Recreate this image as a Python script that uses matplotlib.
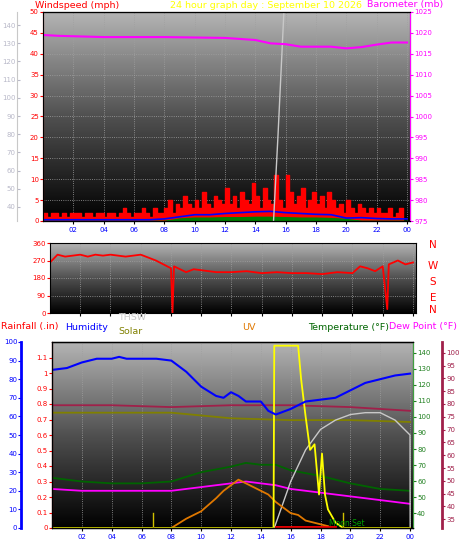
import numpy as np
import matplotlib
matplotlib.use("Agg")
import matplotlib.pyplot as plt
from matplotlib.colors import LinearSegmentedColormap

# ---------- data ----------
wind_gust = [2,1,2,2,1,2,1,2, 2,2,1,2,2,1,2,2, 1,2,2,1,2,3,2,1, 2,2,3,2,1,3,2,2,
             3,5,2,4,3,6,4,3, 5,3,7,4,3,6,5,4,
             8,4,6,3,7,5,4,9, 6,3,8,5,4,11,5,3,
             11,7,4,6,8,3,5,7, 4,6,3,7,5,3,4,2,
             5,3,2,4,3,2,3,2, 3,2,2,3,1,2,3,1]
wind_avg_h = [0,1,2,3,4,5,6,7,8,9,10,11,12,13,14,15,16,17,18,19,20,21,22,23,24]
wind_avg = [0.3,0.3,0.3,0.3,0.3,0.3,0.3,0.3,0.5,1.0,1.5,1.5,1.8,2.0,2.2,2.3,2.0,1.8,1.6,1.5,0.7,0.8,0.6,0.5,0.5]
wind_low = [0,0,0,0,0,0,0,0,0,0.6,0.8,0.8,0.9,0.9,1.0,1.0,0.9,0.8,0.8,0.7,0.5,0,0,0,0]
baro_h = [0,1,2,4,8,12,14,15,16,17,19,20,21,22,23,24]
baro = [1019.5,1019.3,1019.2,1019.0,1019.0,1018.8,1018.3,1017.5,1017.3,1016.7,1016.7,1016.3,1016.6,1017.2,1017.7,1017.7]
thsw_top_h = [15.2, 15.5, 15.9]
thsw_top = [32, 80, 150]

dir_h = [0,0.5,1,1.5,2,2.5,3,3.5,4,5,6,7,7.5,8,8.1,8.2,9,9.5,10,11,12,13,14,15,16,17,18,19,20,20.5,21,21.5,22,22.3,22.4,23,23.5,24]
wdir = [260,300,290,295,300,290,300,295,300,290,300,270,250,230,0,240,210,225,220,210,210,215,205,210,205,205,200,210,205,240,230,215,240,20,250,270,250,260]

hum_h = [0,1,2,3,4,4.5,5,6,7,8,9,10,11,11.5,12,12.5,13,14,14.5,15,16,17,18,19,20,21,22,23,24]
hum = [85,86,89,91,91,92,91,91,91,90,84,76,71,70,73,71,68,68,63,61,64,68,69,70,74,78,80,82,83]
h_line = [0,4,8,12,16,20,24]
maroon = [66,66,65,66,66,65,63]
olive = [62,62,62,59,58,58,57]
temp_h = [0,2,4,6,8,10,12,13,14,15,16,18,20,22,24]
temp = [27,25,24,24,25,30,33,35,34,34,31,28,24,21,20]
dew = [21,20,20,20,20,22,24,25,24,23,21,19,17,15,13]
uv_h = [8,9,10,11,11.5,12,12.5,13,13.5,14,14.5,15,15.5,16,16.5,17,18,18.5]
uv = [0,5,9,16,20,23,26,24,22,20,18,14,11,8,7,4,2,1]
sol_h = [0,14.85,14.9,16.5,16.7,17,17.3,17.6,17.9,18.1,18.3,18.5,19,19.5,24]
sol = [0,0,98,98,80,60,42,45,18,40,18,10,3,0,0]
thsw_h = [14.9,16,17,18,19,20,21,22,23,24,24.01]
thsw = [0,25,42,53,58,61,62,62,58,50,0]

xt = [2,4,6,8,10,12,14,16,18,20,22,24]
xtl = ["02","04","06","08","10","12","14","16","18","20","22","00"]

W, H = 459, 555
fig = plt.figure(figsize=(W/100, H/100), dpi=100)
cmap = LinearSegmentedColormap.from_list("g", ["#b4b4b4", "#505050", "#000000"])
fs = 5
tfs = 6.8

def bg(ax):
    grad = np.linspace(0, 1, 256).reshape(-1, 1)
    ax.imshow(grad, cmap=cmap, aspect="auto", extent=[0, 1, 0, 1],
              transform=ax.transAxes, zorder=0)
    ax.grid(True, color="#a0a0a0", linestyle=":", linewidth=0.6)
    ax.set_xlim(0, 24.2)
    ax.set_xticks(xt)
    ax.set_xticklabels(xtl, color="blue", fontsize=fs)
    ax.tick_params(axis="x", length=2, pad=2)

def fax(l, t, r, b):
    return fig.add_axes([l/W, 1-b/H, (r-l)/W, (b-t)/H])

# ---------- top panel ----------
ax1 = fax(43, 12, 410, 221)
bg(ax1)
xg = np.arange(len(wind_gust)) * 0.25
ax1.fill_between(xg, wind_gust, step="post", color="red", zorder=3)
ax1.fill_between(wind_avg_h, wind_low, color="green", zorder=4)
ax1.plot(wind_avg_h, wind_avg, color="blue", lw=1.2, zorder=5)
ax1.set_ylim(0, 50)
ax1.set_yticks(range(0, 51, 5))
ax1.tick_params(axis="y", colors="red", labelsize=fs, length=2, pad=1)
ax1.spines["left"].set_color("red")

axg = ax1.twinx()
axg.spines["right"].set_visible(False)
axg.spines["left"].set_visible(True)
axg.spines["left"].set_position(("outward", 19))
axg.spines["left"].set_color("#c8c8c8")
axg.yaxis.set_ticks_position("left")
axg.set_ylim(32.3, 147.2)
axg.set_yticks(range(40, 141, 10))
axg.tick_params(axis="y", colors="#b8b8c8", labelsize=fs, length=2, pad=1, direction="in")
axg.plot(thsw_top_h, thsw_top, color="#c8c8c8", lw=1)

axb = ax1.twinx()
axb.set_ylim(975, 1025)
axb.set_yticks(range(975, 1026, 5))
axb.tick_params(axis="y", colors="magenta", labelsize=fs, length=2, pad=1)
axb.spines["right"].set_color("magenta")
axb.plot(baro_h, baro, color="magenta", lw=1.5)
axb.set_xlim(0, 24.2)

fig.text(35/W, 1-5/H, "Windspeed (mph)", color="red", fontsize=tfs, va="center")
fig.text(170/W, 1-5/H, "24 hour graph day : September 10 2026", color="yellow", fontsize=tfs, va="center")
fig.text(367/W, 1-5/H, "Barometer (mb)", color="magenta", fontsize=tfs, va="center")

# ---------- middle panel ----------
ax2 = fax(50, 243, 416, 313)
bg(ax2)
ax2.plot(dir_h, wdir, color="red", lw=1.3)
ax2.set_ylim(0, 360)
ax2.set_yticks([0, 90, 180, 270, 360])
ax2.tick_params(axis="y", colors="red", labelsize=fs, length=2, pad=1)
ax2.set_xticklabels([])
for lab, y in zip(["N", "W", "S", "E", "N"], [245, 266, 282, 298, 310]):
    fig.text(433/W, 1-(y)/H, lab, color="red", fontsize=7.5, va="center", ha="center")

# ---------- bottom panel ----------
ax3 = fax(52, 342, 413, 528)
bg(ax3)
ax3.set_ylim(0, 100)
ax3.set_yticks([])
ax3.plot(h_line, maroon, color="#a0204a", lw=1.3)
ax3.plot(h_line, olive, color="#808000", lw=1.3)
ax3.plot(temp_h, temp, color="#006400", lw=1.3)
ax3.plot(temp_h, dew, color="magenta", lw=1.3)
ax3.plot(thsw_h, thsw, color="#c8c8c8", lw=1)
ax3.plot(uv_h, uv, color="#e07800", lw=1.3)
ax3.plot(sol_h, sol, color="yellow", lw=1.3)
ax3.plot(hum_h, hum, color="blue", lw=1.5)
ax3.plot([15, 19], [0.3, 0.3], color="red", lw=2)
ax3.text(18.6, 1, "Moon Set", color="#00a000", fontsize=5.5)
ax3.plot([6.8, 6.8], [0, 8], color="#d0c000", lw=1)
ax3.plot([19.5, 19.5], [0, 8], color="#d0c000", lw=1)

axr = ax3.twinx()
axr.spines["right"].set_visible(False)
axr.spines["left"].set_visible(True)
axr.spines["left"].set_color("red")
axr.yaxis.set_ticks_position("left")
axr.set_ylim(0, 1.2)
axr.set_yticks([0, .1, .2, .3, .4, .5, .6, .7, .8, .9, 1, 1.1])
axr.set_yticklabels(["0", "0.1", "0.2", "0.3", "0.4", "0.5", "0.6", "0.7", "0.8", "0.9", "1", "1.1"])
axr.tick_params(axis="y", colors="red", labelsize=fs, length=2, pad=1)

axh = ax3.twinx()
axh.spines["right"].set_visible(False)
axh.spines["left"].set_visible(True)
axh.spines["left"].set_position(("outward", 22))
axh.spines["left"].set_color("blue")
axh.spines["left"].set_linewidth(2)
axh.yaxis.set_ticks_position("left")
axh.set_ylim(0, 100)
axh.set_yticks(range(0, 101, 10))
axh.tick_params(axis="y", colors="blue", labelsize=fs, length=2, pad=1)

axt = ax3.twinx()
axt.spines["right"].set_color("#40a040")
axt.set_ylim(30.8, 146.7)
axt.set_yticks(range(40, 141, 10))
axt.tick_params(axis="y", colors="#208020", labelsize=fs, length=2, pad=1)

axd = ax3.twinx()
axd.spines["right"].set_position(("outward", 21))
axd.spines["right"].set_color("#a0204a")
axd.spines["right"].set_linewidth(2)
axd.set_ylim(31.6, 104.2)
axd.set_yticks(range(35, 101, 5))
axd.tick_params(axis="y", colors="#a0204a", labelsize=fs, length=2, pad=1)

ty = 1 - 327/H
fig.text(1/W, ty, "Rainfall (.in)", color="red", fontsize=tfs, va="center")
fig.text(65/W, ty, "Humidity", color="blue", fontsize=tfs, va="center")
fig.text(118/W, 1-318/H, "THSW", color="#c8c8c8", fontsize=tfs, va="center")
fig.text(118/W, 1-332/H, "Solar", color="#808000", fontsize=tfs, va="center")
fig.text(242/W, ty, "UV", color="#e07800", fontsize=tfs, va="center")
fig.text(308/W, ty, "Temperature (°F)", color="#006400", fontsize=tfs, va="center")
fig.text(457/W, ty, "Dew Point (°F)", color="magenta", fontsize=tfs, va="center", ha="right")

fig.savefig("out.png", dpi=100)
